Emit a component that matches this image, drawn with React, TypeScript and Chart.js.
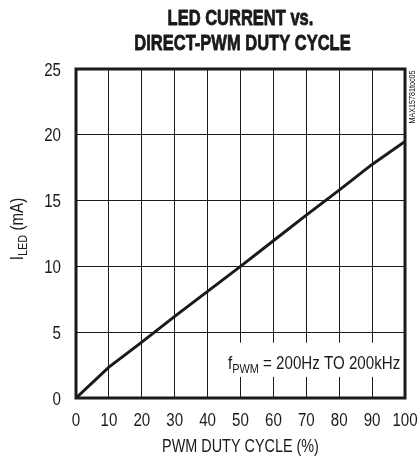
import React, { useEffect, useRef } from "react";
import { Chart, registerables } from "chart.js";

Chart.register(...registerables);

const dutyCycle = [0, 10, 20, 30, 40, 50, 60, 70, 80, 90, 100];
const ledCurrent = [0, 2.35, 4.25, 6.2, 8.1, 10.0, 11.95, 13.9, 15.8, 17.75, 19.5];
const xTicks = [0, 10, 20, 30, 40, 50, 60, 70, 80, 90, 100];
const yTicks = [0, 5, 10, 15, 20, 25];
const titleLines = ["LED CURRENT vs.", "DIRECT-PWM DUTY CYCLE"];
const xTitle = "PWM DUTY CYCLE (%)";
const sideLabel = "MAX15781toc05";

const FONT = '"Liberation Sans", Arial, sans-serif';
const INK = "#1a1a1a";

function condText(
  ctx: CanvasRenderingContext2D,
  text: string,
  x: number,
  y: number,
  size: number,
  opts: { bold?: boolean; align?: "left" | "center" | "right"; sx?: number; stroke?: number } = {}
) {
  const sx = opts.sx ?? 0.84;
  ctx.save();
  ctx.font = `${opts.bold ? "bold " : ""}${size}px ${FONT}`;
  ctx.textAlign = opts.align ?? "left";
  ctx.textBaseline = "alphabetic";
  ctx.translate(x, y);
  ctx.scale(sx, 1);
  ctx.fillText(text, 0, 0);
  if (opts.stroke) {
    ctx.lineWidth = opts.stroke;
    ctx.strokeStyle = ctx.fillStyle as string;
    ctx.lineJoin = "round";
    ctx.strokeText(text, 0, 0);
  }
  ctx.restore();
}

function condWidth(ctx: CanvasRenderingContext2D, text: string, size: number, bold = false, sx = 0.84) {
  ctx.save();
  ctx.font = `${bold ? "bold " : ""}${size}px ${FONT}`;
  const w = ctx.measureText(text).width * sx;
  ctx.restore();
  return w;
}

const decorPlugin = {
  id: "decor",
  beforeDatasetsDraw(chart: any) {
    const { ctx, chartArea } = chart;
    const xs = chart.scales.x;
    const ys = chart.scales.y;
    ctx.save();
    const bx = xs.getPixelForValue(44.5);
    const by = ys.getPixelForValue(4.2);
    const bh = ys.getPixelForValue(1.6) - by;
    ctx.fillStyle = "#fff";
    ctx.fillRect(bx, by, chartArea.right - bx - 1, bh);
    ctx.restore();
  },
  afterDraw(chart: any) {
    const { ctx, chartArea } = chart;
    const xs = chart.scales.x;
    const ys = chart.scales.y;
    const cx = (chartArea.left + chartArea.right) / 2;
    ctx.save();
    ctx.fillStyle = INK;

    // frame
    ctx.strokeStyle = INK;
    ctx.lineWidth = 3;
    ctx.strokeRect(chartArea.left, chartArea.top, chartArea.right - chartArea.left, chartArea.bottom - chartArea.top);

    // tick labels
    xTicks.forEach((v) => {
      condText(ctx, String(v), xs.getPixelForValue(v), 426, 18, { align: "center", sx: 0.84 });
    });
    yTicks.forEach((v) => {
      condText(ctx, String(v), 61, ys.getPixelForValue(v) + 6.5, 18, { align: "right", sx: 0.84 });
    });

    // title
    condText(ctx, titleLines[0], cx, 25, 22, { bold: true, align: "center", sx: 0.75, stroke: 0.8 });
    condText(ctx, titleLines[1], cx + 2, 50, 22, { bold: true, align: "center", sx: 0.75, stroke: 0.8 });

    // x title
    condText(ctx, xTitle, cx, 452, 18, { align: "center", sx: 0.8 });

    // y title with subscript (rotated)
    ctx.save();
    ctx.translate(23, 229);
    ctx.rotate(-Math.PI / 2);
    const w1 = condWidth(ctx, "I", 18);
    const w2 = condWidth(ctx, "LED", 13);
    const w3 = condWidth(ctx, " (mA)", 18);
    const x0 = -(w1 + w2 + w3) / 2;
    condText(ctx, "I", x0, 0, 18);
    condText(ctx, "LED", x0 + w1, 4, 13);
    condText(ctx, " (mA)", x0 + w1 + w2, 0, 18);
    ctx.restore();

    // annotation text
    const ax = 228;
    const ay = 369;
    const wf = condWidth(ctx, "f", 18);
    const ws = condWidth(ctx, "PWM", 13);
    condText(ctx, "f", ax, ay, 18);
    condText(ctx, "PWM", ax + wf, ay + 4, 13);
    condText(ctx, " = 200Hz TO 200kHz", ax + wf + ws, ay, 18);

    // side label
    ctx.save();
    ctx.translate(415, 97);
    ctx.rotate(-Math.PI / 2);
    condText(ctx, sideLabel, 0, 0, 9, { align: "center", sx: 0.8 });
    ctx.restore();

    ctx.restore();
  },
};

export default function App() {
  const ref = useRef<HTMLCanvasElement | null>(null);
  useEffect(() => {
    document.body.style.margin = "0";
    const canvas = ref.current!;
    const chart = new Chart(canvas, {
      type: "line",
      data: {
        datasets: [
          {
            data: dutyCycle.map((x, i) => ({ x, y: ledCurrent[i] })),
            borderColor: INK,
            borderWidth: 3,
            pointRadius: 0,
            tension: 0,
            fill: false,
          },
        ],
      },
      options: {
        animation: false,
        responsive: false,
        maintainAspectRatio: false,
        layout: { padding: { left: 0, top: 69, right: 12, bottom: 0 } },
        plugins: { legend: { display: false }, tooltip: { enabled: false }, title: { display: false } },
        scales: {
          x: {
            type: "linear",
            min: 0,
            max: 100,
            afterBuildTicks: (s: any) => {
              s.ticks = xTicks.map((v) => ({ value: v }));
            },
            afterFit: (s: any) => {
              s.height = 60;
            },
            grid: { color: INK, lineWidth: 1, drawTicks: false },
            border: { display: false },
            ticks: { display: false },
          },
          y: {
            type: "linear",
            min: 0,
            max: 25,
            afterBuildTicks: (s: any) => {
              s.ticks = yTicks.map((v) => ({ value: v }));
            },
            afterFit: (s: any) => {
              s.width = 76;
            },
            grid: { color: INK, lineWidth: 1, drawTicks: false },
            border: { display: false },
            ticks: { display: false },
          },
        },
      },
      plugins: [decorPlugin],
    } as any);
    return () => chart.destroy();
  }, []);
  return <canvas ref={ref} width={417} height={458} style={{ display: "block" }} />;
}
